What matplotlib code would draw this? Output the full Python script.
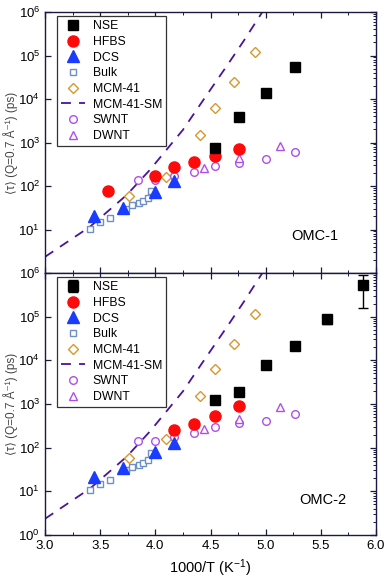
import matplotlib
matplotlib.use("Agg")
import matplotlib.pyplot as plt
import numpy as np
from matplotlib.ticker import LogLocator, MultipleLocator, NullFormatter, FixedLocator

plt.rcParams['font.family'] = ['Liberation Sans', 'DejaVu Sans']
plt.rcParams['mathtext.fontset'] = 'custom'
plt.rcParams['mathtext.rm'] = 'Liberation Sans'
plt.rcParams['mathtext.it'] = 'Liberation Sans:italic'

# ---- data (1000/T in K^-1, tau in ps) ----
nse1_x = [4.545, 4.762, 5.0, 5.263]
nse1_y = [760, 3900, 13500, 55000]
nse2_x = [4.545, 4.762, 5.0, 5.263, 5.556, 5.882]
nse2_y = [1230, 1900, 7700, 21000, 89000, 540000]
nse2_err_lo = [0, 0, 0, 0, 22000, 380000]
nse2_err_hi = [0, 0, 0, 0, 12000, 350000]

hfbs1_x = [3.571, 4.0, 4.167, 4.348, 4.545, 4.762]
hfbs1_y = [77, 172, 272, 350, 485, 705]
hfbs2_x = [4.167, 4.348, 4.545, 4.762]
hfbs2_y = [252, 355, 530, 900]

dcs1_x = [3.448, 3.704, 4.0, 4.167]
dcs1_y = [20, 32, 71, 128]
dcs2_x = [3.448, 3.704, 4.0, 4.167]
dcs2_y = [21, 34, 80, 125]

bulk_x = [3.41, 3.50, 3.59, 3.73, 3.79, 3.85, 3.89, 3.93, 3.96]
bulk_y = [10.5, 14.5, 18.5, 30, 36, 40, 45, 52, 75]

mcm_x = [3.76, 4.10, 4.405, 4.545, 4.71, 4.90]
mcm_y = [59, 158, 1500, 6200, 24000, 118000]

sm_x = [3.0, 3.41, 3.74, 3.95, 4.25, 4.435, 4.66, 4.80, 4.97]
sm_y = [2.35, 11.7, 62, 234, 1950, 9500, 64000, 215000, 1000000]

swnt_x = [3.846, 4.0, 4.167, 4.348, 4.545, 4.762, 5.0, 5.263]
swnt1_y = [137, 137, 172, 207, 287, 343, 410, 595]
swnt2_y = [142, 142, 178, 218, 293, 363, 410, 590]

dwnt_x = [4.444, 4.762, 5.128]
dwnt1_y = [265, 430, 850]
dwnt2_y = [265, 460, 870]

labels = ['NSE', 'HFBS', 'DCS', 'Bulk', 'MCM-41', 'MCM-41-SM', 'SWNT', 'DWNT']

c_nse = 'black'
c_hfbs = '#ff0a0a'
c_dcs = '#1a3cff'
c_bulk = '#6f8fc4'
c_mcm = '#d9962e'
c_sm = '#4a1499'
c_nt = '#b04fe8'
spine_c = '#1a1a40'

fig = plt.figure(figsize=(3.87, 5.82), dpi=100)
W = 387.0; H = 582.0
left = 45 / W; width = (376 - 45) / W
ax1 = fig.add_axes([left, 1 - 273 / H, width, (273 - 12) / H])
ax2 = fig.add_axes([left, 1 - 535 / H, width, (535 - 273) / H])


def draw(ax, nx, ny, hx, hy, dx, dy, s1, d1, err=None):
    ax.plot(sm_x, sm_y, ls=(0, (5.5, 4.5)), color=c_sm, lw=1.3, label=labels[5], zorder=1)
    ax.plot(bulk_x, bulk_y, 's', mfc='white', mec=c_bulk, mew=1.0, ms=5, ls='none', label=labels[3], zorder=2)
    ax.plot(mcm_x, mcm_y, 'D', mfc='white', mec=c_mcm, mew=1.0, ms=5, ls='none', label=labels[4], zorder=2)
    ax.plot(swnt_x, s1, 'o', mfc='white', mec=c_nt, mew=1.0, ms=5.5, ls='none', label=labels[6], zorder=2)
    ax.plot(dwnt_x, d1, '^', mfc='white', mec=c_nt, mew=1.0, ms=6, ls='none', label=labels[7], zorder=2)
    ax.plot(dx, dy, '^', color=c_dcs, ms=8, ls='none', label=labels[2], zorder=3)
    ax.plot(hx, hy, 'o', color=c_hfbs, ms=8, ls='none', label=labels[1], zorder=3)
    if err is not None:
        ax.errorbar(nx, ny, yerr=err, fmt='s', color=c_nse, ms=6.5, capsize=3.5, elinewidth=1.0, capthick=1.0,
                    ls='none', label=labels[0], zorder=4)
    else:
        ax.plot(nx, ny, 's', color=c_nse, ms=6.5, ls='none', label=labels[0], zorder=4)
    ax.set_yscale('log')
    ax.set_xlim(3.0, 6.0)
    ax.set_ylim(1, 1e6)
    ax.xaxis.set_major_locator(MultipleLocator(0.5))
    ax.xaxis.set_minor_locator(MultipleLocator(0.25))
    ax.yaxis.set_major_locator(LogLocator(base=10, numticks=10))
    ax.yaxis.set_minor_locator(LogLocator(base=10, subs=np.arange(2, 10), numticks=10))
    ax.yaxis.set_minor_formatter(NullFormatter())
    ax.tick_params(which='both', direction='in', top=True, right=True, labelsize=9.5, color=spine_c)
    ax.tick_params(which='major', length=4.5, width=0.9)
    ax.tick_params(which='minor', length=2.5, width=0.7)
    ax.tick_params(axis='y', which='minor', left=False)
    for s in ax.spines.values():
        s.set_color(spine_c)
        s.set_linewidth(1.0)
    ax.set_ylabel('\u27e8\u03c4\u27e9 (Q=0.7 \u00c5\u207b\u00b9) (ps)', fontsize=8.5, color='#444444', labelpad=0)
    h, l = ax.get_legend_handles_labels()
    order = [l.index(x) for x in labels]
    leg = ax.legend([h[i] for i in order], [l[i] for i in order], loc='upper left',
                    bbox_to_anchor=(0.035, 0.985), fontsize=8.8, frameon=True, fancybox=False,
                    edgecolor='#333333', framealpha=1, labelspacing=0.3, handlelength=2.0,
                    handletextpad=0.6, borderpad=0.35, borderaxespad=0.0)
    leg.get_frame().set_linewidth(0.9)


draw(ax1, nse1_x, nse1_y, hfbs1_x, hfbs1_y, dcs1_x, dcs1_y, swnt1_y, dwnt1_y)
draw(ax2, nse2_x, nse2_y, hfbs2_x, hfbs2_y, dcs2_x, dcs2_y, swnt2_y, dwnt2_y,
     err=[nse2_err_lo, nse2_err_hi])

ax1.tick_params(axis='x', labelbottom=False)
ax1.yaxis.set_major_locator(FixedLocator([10.0 ** k for k in range(1, 7)]))
ax1.text(0.885, 0.14, 'OMC-1', transform=ax1.transAxes, ha='right', va='center', fontsize=10.5)
ax2.text(0.91, 0.135, 'OMC-2', transform=ax2.transAxes, ha='right', va='center', fontsize=10.5)
ax2.set_xlabel('1000/T (K$^{-1}$)', fontsize=10.5, labelpad=4)

fig.savefig('out.png', dpi=100)
